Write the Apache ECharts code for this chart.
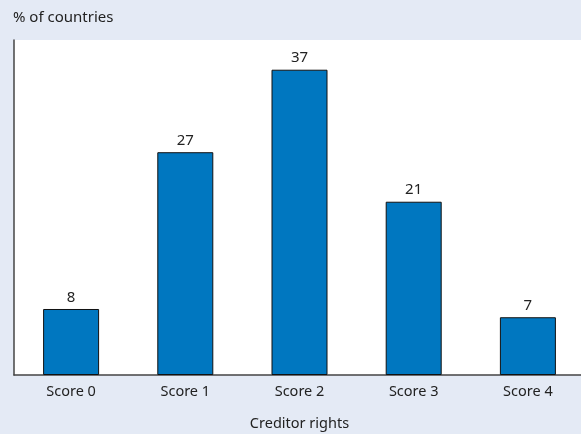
<!DOCTYPE html>
<html>
<head>
<meta charset="utf-8">
<script src="https://cdn.jsdelivr.net/npm/echarts@6/dist/echarts.min.js"></script>
<style>
html,body{margin:0;padding:0;background:#e4eaf5;}
#c{width:581px;height:434px;}
</style>
</head>
<body>
<div id="c"></div>
<script>
const categories = ['Score 0', 'Score 1', 'Score 2', 'Score 3', 'Score 4'];
const values = [8, 27, 37, 21, 7];
const yTitle = '% of countries';
const xTitle = 'Creditor rights';

const chart = echarts.init(document.getElementById('c'), null, {renderer: 'canvas'});
const font = 'Noto Sans';
chart.setOption({
  animation: false,
  backgroundColor: '#e4eaf5',
  title: {
    text: yTitle,
    left: 8, top: 5,
    textStyle: {fontFamily: font, fontSize: 15, fontWeight: 'normal', color: '#222'}
  },
  grid: {
    left: 14, top: 40, width: 571, height: 335,
    outerBoundsMode: 'none',
    show: true, backgroundColor: '#ffffff', borderWidth: 0,
    containLabel: false
  },
  xAxis: {
    type: 'category',
    data: categories,
    axisLine: {lineStyle: {color: '#444', width: 1.5}},
    axisTick: {show: false},
    axisLabel: {fontFamily: font, fontSize: 14.5, color: '#222', margin: 9},
    name: xTitle,
    nameLocation: 'middle',
    nameGap: 41,
    nameTextStyle: {fontFamily: font, fontSize: 14.5, color: '#222'}
  },
  yAxis: {
    type: 'value',
    min: 0, max: 40.6,
    axisLine: {show: true, lineStyle: {color: '#444', width: 1.5}},
    axisTick: {show: false},
    axisLabel: {show: false},
    splitLine: {show: false}
  },
  series: [{
    type: 'bar',
    data: values,
    barWidth: 56,
    itemStyle: {color: '#0077c0', borderColor: '#111', borderWidth: 1},
    label: {
      show: true, position: 'top', distance: 4,
      fontFamily: font, fontSize: 15, color: '#222'
    }
  }]
});
</script>
</body>
</html>
